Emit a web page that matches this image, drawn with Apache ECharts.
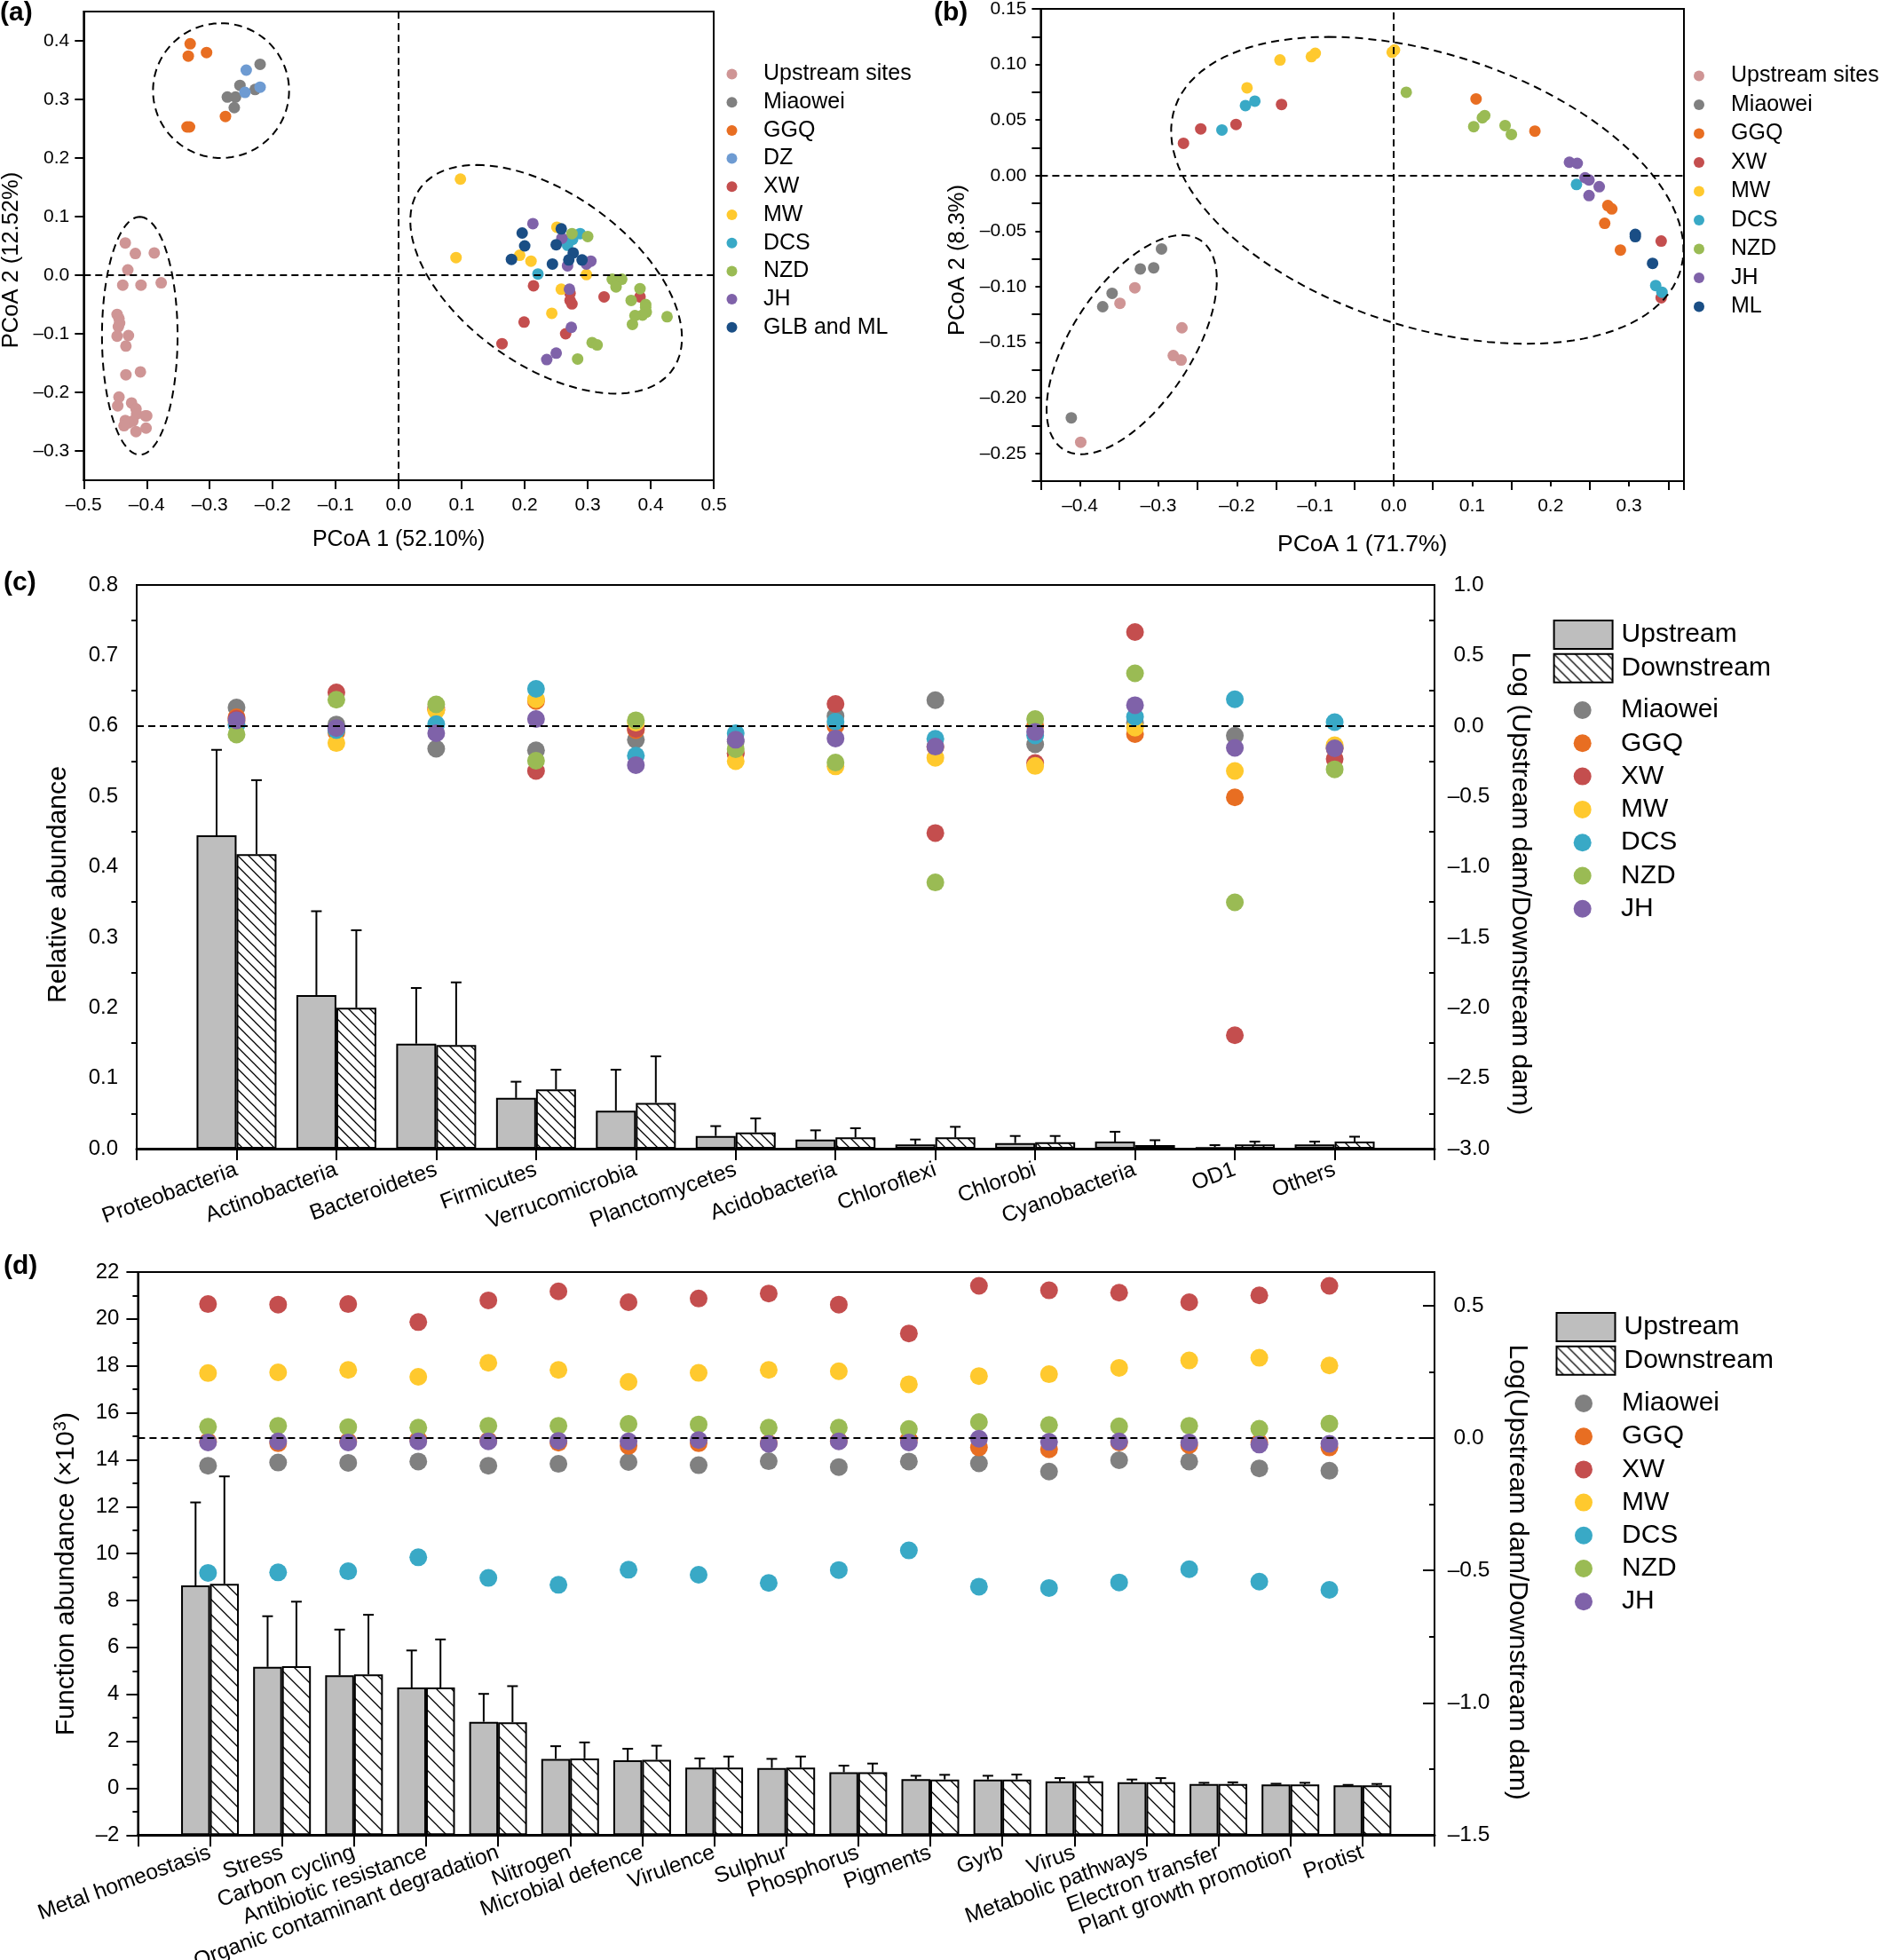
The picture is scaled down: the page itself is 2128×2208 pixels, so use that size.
<!DOCTYPE html>
<html><head><meta charset="utf-8">
<style>html,body{margin:0;padding:0;background:#fff}#c{width:2128px;height:2208px}</style>
<script src="https://cdn.jsdelivr.net/npm/echarts@6/dist/echarts.min.js"></script>
</head><body><div id="c"></div>
<script>
// ---- colours
const COLORS={'Upstream sites':'#CF9595','Miaowei':'#808080','GGQ':'#E86E22','DZ':'#6E9BD2','XW':'#C44E4E','MW':'#FFC92E','DCS':'#39A9C6','NZD':'#9ABB54','JH':'#7F62A9','GLB and ML':'#1A4E85','ML':'#1A4E85'};
// ---- panel (a) PCoA points [x,y]
const aUpstream=[[-.434,.055],[-.418,.037],[-.388,.038],[-.430,.009],[-.438,-.017],[-.409,-.017],[-.377,-.013],[-.447,-.067],[-.444,-.074],[-.443,-.082],[-.445,-.088],[-.447,-.104],[-.429,-.103],[-.433,-.121],[-.410,-.165],[-.433,-.170],[-.444,-.208],[-.446,-.223],[-.424,-.218],[-.417,-.228],[-.416,-.237],[-.402,-.240],[-.400,-.240],[-.422,-.249],[-.434,-.248],[-.429,-.252],[-.436,-.257],[-.401,-.261],[-.417,-.267]];
const aMiaowei=[[-.220,.360],[-.252,.324],[-.228,.317],[-.272,.304],[-.259,.304],[-.261,.286]];
const aGGQ=[[-.331,.395],[-.305,.380],[-.334,.374],[-.275,.271],[-.336,.253],[-.332,.253]];
const aDZ=[[-.242,.350],[-.220,.321],[-.244,.312]];
const aXW=[[.214,-.018],[.272,-.031],[.272,-.043],[.275,-.049],[.326,-.037],[.383,-.037],[.199,-.080],[.265,-.100],[.164,-.117]];
const aMW=[[.098,.164],[.091,.030],[.251,.082],[.192,.034],[.210,.024],[.298,.001],[.258,-.024],[.243,-.065]];
const aDCS=[[.221,.002],[.288,.071],[.276,.061],[.268,.051]];
const aNZD=[[.275,.071],[.300,.066],[.339,-.007],[.354,-.007],[.345,-.020],[.383,-.023],[.369,-.043],[.392,-.050],[.392,-.055],[.393,-.063],[.387,-.068],[.375,-.069],[.426,-.071],[.371,-.084],[.307,-.115],[.315,-.119],[.284,-.143]];
const aJH=[[.213,.088],[.259,.063],[.305,.024],[.298,.019],[.268,.016],[.271,-.024],[.274,-.089],[.250,-.133],[.235,-.144]];
const aGLB=[[.196,.072],[.258,.079],[.200,.050],[.250,.052],[.277,.038],[.179,.027],[.244,.019],[.270,.026],[.291,.026]];
// ellipses: [cx, cy, topDx, topDy, halfWidthAtCentre]
const aEllipses=[[-.282,.315,0,.115,.108],[-.411,-.1035,0,.203,.060],[.234,-.007,-.1104,.1951,.1852]];
// ---- panel (b)
const bUpstream=[[-.330,-.101],[-.349,-.115],[-.270,-.137],[-.281,-.162],[-.271,-.166],[-.399,-.240]];
const bMiaowei=[[-.296,-.066],[-.323,-.084],[-.306,-.083],[-.359,-.106],[-.371,-.118],[-.411,-.218]];
const bGGQ=[[.105,.069],[.180,.040],[.273,-.027],[.278,-.030],[.269,-.043],[.289,-.067]];
const bXW=[[-.268,.029],[-.246,.042],[-.201,.046],[-.143,.064],[.341,-.059],[.341,-.110]];
const bMW=[[-.187,.079],[-.145,.104],[-.105,.107],[-.100,.110],[-.002,.111],[.001,.113]];
const bDCS=[[-.219,.041],[-.189,.063],[-.177,.067],[.233,-.008],[.334,-.099],[.342,-.105]];
const bNZD=[[.016,.075],[.102,.044],[.113,.052],[.116,.054],[.142,.045],[.150,.037]];
const bJH=[[.224,.012],[.234,.011],[.244,-.002],[.249,-.004],[.262,-.010],[.249,-.018]];
const bML=[[.308,-.053],[.308,-.055],[.330,-.079]];
const bEllipses=[[.0428,-.0133,-.126,.1381,.3013],[-.334,-.1522,.0642,.0986,.0875]];
// ---- panel (c)
const cCategories=['Proteobacteria','Actinobacteria','Bacteroidetes','Firmicutes','Verrucomicrobia','Planctomycetes','Acidobacteria','Chloroflexi','Chlorobi','Cyanobacteria','OD1','Others'];
const cUp=[.4446,.218,.149,.072,.054,.018,.013,.006,.008,.010,.002,.006];
const cDown=[.418,.200,.147,.084,.065,.023,.016,.016,.009,.005,.006,.010];
const cUpErr=[.566,.337,.228,.095,.112,.032,.026,.013,.018,.024,.005,.010];
const cDownErr=[.523,.310,.236,.112,.131,.043,.029,.031,.018,.012,.010,.017];
const cMiaowei=[.131,.01,-.162,-.174,-.098,-.11,.07,.183,-.131,.02,-.07,-.15];
const cGGQ=[.061,-.046,.116,.177,-.03,-.195,0,-.15,.003,-.058,-.507,-.16];
const cXW=[.05,.238,.13,-.32,-.02,-.195,.156,-.76,-.263,.666,-2.195,-.235];
const cMW=[.03,-.122,.11,.189,.024,-.25,-.287,-.226,-.284,-.012,-.32,-.137];
const cDCS=[.01,-.03,.012,.263,-.211,-.052,.03,-.092,-.067,.064,.189,.027];
const cNZD=[-.061,.186,.153,-.247,.04,-.165,-.26,-1.111,.049,.373,-1.252,-.308];
const cJH=[.04,-.015,-.052,.049,-.278,-.098,-.089,-.147,-.043,.147,-.156,-.159];
// ---- panel (d)
const dCategories=['Metal homeostasis','Stress','Carbon cycling','Antibiotic resistance','Organic contaminant degradation','Nitrogen','Microbial defence','Virulence','Sulphur','Phosphorus','Pigments','Gyrb','Virus','Metabolic pathways','Electron transfer','Plant growth promotion','Protist'];
const dUp=[8.64,5.17,4.81,4.29,2.83,1.25,1.19,.88,.86,.68,.39,.37,.29,.25,.175,.16,.12];
const dDown=[8.71,5.20,4.85,4.29,2.81,1.27,1.21,.88,.88,.68,.37,.37,.29,.25,.175,.16,.12];
const dUpErr=[12.18,7.33,6.76,5.87,4.02,1.79,1.68,1.27,1.25,.96,.53,.53,.43,.37,.23,.19,.14];
const dDownErr=[13.29,7.95,7.39,6.34,4.35,1.95,1.81,1.35,1.35,1.05,.57,.58,.49,.43,.25,.23,.18];
const dMiaowei=[-.104,-.092,-.093,-.088,-.104,-.097,-.090,-.102,-.087,-.109,-.088,-.095,-.126,-.083,-.088,-.114,-.123];
const dGGQ=[-.012,-.019,-.012,-.005,-.009,-.017,-.029,-.019,-.019,-.010,-.005,-.035,-.042,-.016,-.026,-.016,-.035];
const dXW=[.507,.505,.507,.439,.521,.555,.514,.528,.547,.505,.396,.576,.559,.550,.514,.540,.576];
const dMW=[.246,.249,.258,.232,.285,.258,.213,.247,.258,.253,.204,.235,.242,.266,.294,.304,.275];
const dDCS=[-.509,-.507,-.503,-.450,-.528,-.554,-.497,-.516,-.547,-.498,-.424,-.561,-.566,-.545,-.495,-.542,-.573];
const dNZD=[.043,.047,.042,.040,.047,.047,.054,.052,.040,.040,.035,.061,.050,.045,.047,.036,.055];
const dJH=[-.016,-.012,-.016,-.012,-.012,-.010,-.012,-.007,-.021,-.012,-.016,-.002,-.014,-.012,-.016,-.024,-.021];

const FONT='"Liberation Sans",Arial,sans-serif';
const GRAY='#BEBEBE';
function hatch(s){const c=document.createElement('canvas');c.width=s;c.height=s;const g=c.getContext('2d');g.fillStyle='#fff';g.fillRect(0,0,s,s);g.strokeStyle='#000';g.lineWidth=1.3;g.beginPath();g.moveTo(-2,-2);g.lineTo(s+2,s+2);g.moveTo(-2,s-2);g.lineTo(2,s+2);g.moveTo(s-2,-2);g.lineTo(s+2,2);g.stroke();return c;}
const HATCH_C={image:hatch(12),repeat:'repeat'}, HATCH_D={image:hatch(17),repeat:'repeat'};
const fmt=d=>v=>Number(v).toFixed(d).replace('-','–');
const ZERO={silent:true,symbol:'none',label:{show:false},lineStyle:{color:'#000',width:2,type:[8,5]},animation:false};

function ellipseSeries(rows,ix,iy){return {type:'custom',xAxisIndex:ix,yAxisIndex:iy,silent:true,z:5,clip:false,data:rows,encode:{x:0,y:1},
 renderItem(p,api){const cx=api.value(0),cy=api.value(1),ax=api.value(2),ay=api.value(3),bx=api.value(4);const pts=[];
  for(let i=0;i<120;i++){const t=i/120*2*Math.PI;pts.push(api.coord([cx+Math.cos(t)*ax+Math.sin(t)*bx,cy+Math.cos(t)*ay]));}
  return {type:'polygon',shape:{points:pts},style:{fill:'none',stroke:'#000',lineWidth:2,lineDash:[9,6]}};}};}
function pointSeries(name,data,ix,iy,size,mark){const s={type:'scatter',name,data,xAxisIndex:ix,yAxisIndex:iy,symbol:'circle',symbolSize:size,z:3,itemStyle:{color:COLORS[name],opacity:1}};if(mark)s.markLine=Object.assign({data:mark},ZERO);return s;}
function barSeries(name,vals,ix,iy,width,fill){return {type:'bar',name,data:['-',...vals,'-'],xAxisIndex:ix,yAxisIndex:iy,barWidth:width,barGap:'0%',z:2,itemStyle:{color:fill,borderColor:'#000',borderWidth:2}};}
function errorSeries(tops,vals,ix,iy,side){return {type:'custom',xAxisIndex:ix,yAxisIndex:iy,silent:true,z:1,data:tops.map((t,i)=>[i+1,vals[i],t]),encode:{x:0,y:[1,2]},
 renderItem(p,api){const off=side*0.2*api.size([1,0])[0];const a=api.coord([api.value(0),api.value(1)]),b=api.coord([api.value(0),api.value(2)]);const x=a[0]+off;const st={stroke:'#000',lineWidth:2,fill:'none'};
  return {type:'group',children:[{type:'line',shape:{x1:x,y1:a[1],x2:x,y2:b[1]},style:st},{type:'line',shape:{x1:x-6,y1:b[1],x2:x+6,y2:b[1]},style:st}]};}};}
const indexed=a=>a.map((v,i)=>[i+1,v]);
function valueX(idx,min,max,name,gap,labels,d,extra){return Object.assign({type:'value',gridIndex:idx,min,max,name,nameLocation:'middle',nameGap:gap,nameTextStyle:{fontFamily:FONT,fontSize:25,color:'#000'},axisLine:{onZero:false,lineStyle:{color:'#000',width:2}},axisTick:{length:10,lineStyle:{color:'#000',width:2}},axisLabel:{customValues:labels,fontFamily:FONT,fontSize:21,color:'#000',margin:18,formatter:fmt(d)},splitLine:{show:false}},extra||{});}
function valueY(idx,min,max,name,gap,pad,labels,d,extra){return Object.assign({type:'value',gridIndex:idx,min,max,name,nameLocation:'middle',nameGap:gap,nameTextStyle:{fontFamily:FONT,fontSize:25.5,color:'#000',padding:pad},axisLine:{onZero:false,lineStyle:{color:'#000',width:2}},axisTick:{length:10,lineStyle:{color:'#000',width:2}},axisLabel:{customValues:labels,fontFamily:FONT,fontSize:21,color:'#000',margin:16,formatter:fmt(d)},splitLine:{show:false}},extra||{});}
function catX(idx,cats,margin){return {type:'category',gridIndex:idx,data:['',...cats,''],boundaryGap:false,axisLine:{onZero:false,lineStyle:{color:'#000',width:3}},axisTick:{length:13,alignWithLabel:true,interval:0,lineStyle:{color:'#000',width:2}},axisLabel:{interval:0,rotate:20,margin,hideOverlap:false,fontFamily:FONT,fontSize:24.6,color:'#000'},splitLine:{show:false}};}
function barLeftY(idx,min,max,interval,d,name,gap,pad,extra){return Object.assign({type:'value',gridIndex:idx,min,max,interval,name,nameLocation:'middle',nameRotate:90,nameGap:gap,nameTextStyle:{fontFamily:FONT,fontSize:30.2,color:'#000',padding:pad,rich:{sup:{fontFamily:FONT,fontSize:20,verticalAlign:'top',padding:[0,0,12,0]},t:{fontFamily:FONT,fontSize:30.2}}},axisLine:{onZero:false,lineStyle:{color:'#000',width:2}},axisTick:{length:13,lineStyle:{color:'#000',width:2}},minorTick:{show:true,splitNumber:2,length:6,lineStyle:{color:'#000',width:2}},axisLabel:{fontFamily:FONT,fontSize:24,color:'#000',margin:21,formatter:fmt(d)},splitLine:{show:false}},extra||{});}
function barRightY(idx,min,max,name,gap,pad,extra){return Object.assign({type:'value',gridIndex:idx,position:'right',min,max,interval:.5,name,nameLocation:'middle',nameRotate:-90,nameGap:gap,nameTextStyle:{fontFamily:FONT,fontSize:30.2,color:'#000',padding:pad},axisLine:{onZero:false,lineStyle:{color:'#000',width:2}},axisTick:{inside:true,length:13,lineStyle:{color:'#000',width:2}},minorTick:{show:true,splitNumber:2,length:6,lineStyle:{color:'#000',width:2}},axisLabel:{align:'center',fontFamily:FONT,fontSize:24.5,color:'#000',margin:38.5,formatter:fmt(1),showMaxLabel:max===1},splitLine:{show:false}},extra||{});}
function dotLegend(names,left,top,w,size,font,gap){return {orient:'vertical',left,top,padding:0,itemWidth:w,itemHeight:size,itemGap:gap,icon:'circle',selectedMode:false,data:names,textStyle:{fontFamily:FONT,fontSize:font,color:'#000',lineHeight:font,height:font}};}
function barLegend(left,top,gap){return {orient:'vertical',left,top,padding:0,itemWidth:66,itemHeight:32,itemGap:gap,selectedMode:false,data:[{name:'Upstream',icon:'rect'},{name:'Downstream',icon:'rect'}],textStyle:{fontFamily:FONT,fontSize:30,color:'#000',padding:[0,0,0,5]}};}

const aTicksX=[-.5,-.4,-.3,-.2,-.1,0,.1,.2,.3,.4,.5], aTicksY=[-.3,-.2,-.1,0,.1,.2,.3,.4];
const bLabelsX=[-.4,-.3,-.2,-.1,0,.1,.2,.3], bLabelsY=[-.25,-.2,-.15,-.1,-.05,0,.05,.1,.15];
const MINOR={show:true,splitNumber:2,length:6,lineStyle:{color:'#000',width:2}};

const option={animation:false,backgroundColor:'#fff',
 title:[['(a)',0,0],['(b)',1052,0],['(c)',4,642],['(d)',4,1412]].map(t=>({text:t[0],left:t[1],top:t[2],padding:0,textStyle:{fontFamily:FONT,fontSize:30,fontWeight:'bold',color:'#000'}})),
 grid:[{left:94.3,top:13,width:709.7,height:528},{left:1172.4,top:10,width:724.6,height:532},{left:154,top:659,width:1462,height:635},{left:155.4,top:1433,width:1460.6,height:634.3}].map(g=>Object.assign(g,{show:true,borderColor:'#000',borderWidth:2,backgroundColor:'transparent',containLabel:false,outerBoundsMode:'none'})),
 xAxis:[
  valueX(0,-.5,.5,'PCoA 1 (52.10%)',55,aTicksX,1,{interval:.1,axisTick:{length:10,customValues:aTicksX,lineStyle:{color:'#000',width:2}}}),
  valueX(1,-.45,.37,'PCoA 1 (71.7%)',58,bLabelsX,1,{interval:.1,minorTick:MINOR,nameTextStyle:{fontFamily:FONT,fontSize:26.5,color:'#000'}}),
  catX(2,cCategories,23),catX(3,dCategories,19),
  // the function-ratio dots of (d) sit on their own, slightly narrower spacing
  {type:'value',gridIndex:3,min:0,max:18.5,show:false,position:'top'}],
 yAxis:[
  valueY(0,-.35,.45,'PCoA 2 (12.52%)',68,[0,32,0,0],aTicksY,1,{axisTick:{length:10,customValues:aTicksY,lineStyle:{color:'#000',width:2}}}),
  valueY(1,-.275,.15,'PCoA 2 (8.3%)',80,[0,34,0,0],bLabelsY,2,{interval:.05,minorTick:MINOR}),
  barLeftY(2,0,.8,.1,1,'Relative abundance',73.5,[0,40,0,0]),
  barRightY(2,-3,1,'Log (Upstream dam/Downstream dam)',81,[0,0,0,38]),
  barLeftY(3,-2,22,2,0,'Function abundance (×10{sup|3})',65,[0,46,0,0],{startValue:-2}),
  barRightY(3,-1.5,.628,'Log(Upstream dam/Downstream dam)',78,[0,0,0,42])],
 legend:[
  dotLegend(['Upstream sites','Miaowei','GGQ','DZ','XW','MW','DCS','NZD','JH','GLB and ML'],818.5,71,61,12,25,6.7),
  dotLegend(['Upstream sites','Miaowei','GGQ','XW','MW','DCS','NZD','JH','ML'],1908,73,62,12,25,7.5),
  barLegend(1749.6,698,3.8),
  dotLegend(['Miaowei','GGQ','XW','MW','DCS','NZD','JH'],1772.7,785,76.6,20,30,7.3),
  barLegend(1752.5,1478,3.8),
  dotLegend(['Miaowei','GGQ','XW','MW','DCS','NZD','JH'],1774,1566,76,20,30,7.2)],
 series:[
  pointSeries('Upstream sites',aUpstream,0,0,13,[{xAxis:0},{yAxis:0}]),
  pointSeries('Miaowei',aMiaowei,0,0,13),pointSeries('GGQ',aGGQ,0,0,13),pointSeries('DZ',aDZ,0,0,13),pointSeries('XW',aXW,0,0,13),pointSeries('MW',aMW,0,0,13),pointSeries('DCS',aDCS,0,0,13),pointSeries('NZD',aNZD,0,0,13),pointSeries('JH',aJH,0,0,13),pointSeries('GLB and ML',aGLB,0,0,13),
  ellipseSeries(aEllipses,0,0),
  pointSeries('Upstream sites',bUpstream,1,1,13,[{xAxis:0},{yAxis:0}]),
  pointSeries('Miaowei',bMiaowei,1,1,13),pointSeries('GGQ',bGGQ,1,1,13),pointSeries('XW',bXW,1,1,13),pointSeries('MW',bMW,1,1,13),pointSeries('DCS',bDCS,1,1,13),pointSeries('NZD',bNZD,1,1,13),pointSeries('JH',bJH,1,1,13),pointSeries('ML',bML,1,1,13),
  ellipseSeries(bEllipses,1,1),
  barSeries('Upstream',cUp,2,2,45,GRAY),barSeries('Downstream',cDown,2,2,45,HATCH_C),
  errorSeries(cUpErr,cUp,2,2,-1),errorSeries(cDownErr,cDown,2,2,1),
  pointSeries('Miaowei',indexed(cMiaowei),2,3,20,[{yAxis:0}]),
  pointSeries('GGQ',indexed(cGGQ),2,3,20),pointSeries('XW',indexed(cXW),2,3,20),pointSeries('MW',indexed(cMW),2,3,20),pointSeries('DCS',indexed(cDCS),2,3,20),pointSeries('NZD',indexed(cNZD),2,3,20),pointSeries('JH',indexed(cJH),2,3,20),
  barSeries('Upstream',dUp,3,4,32.5,GRAY),barSeries('Downstream',dDown,3,4,32.5,HATCH_D),
  errorSeries(dUpErr,dUp,3,4,-1),errorSeries(dDownErr,dDown,3,4,1),
  pointSeries('Miaowei',indexed(dMiaowei),4,5,20,[{yAxis:0}]),
  pointSeries('GGQ',indexed(dGGQ),4,5,20),pointSeries('XW',indexed(dXW),4,5,20),pointSeries('MW',indexed(dMW),4,5,20),pointSeries('DCS',indexed(dDCS),4,5,20),pointSeries('NZD',indexed(dNZD),4,5,20),pointSeries('JH',indexed(dJH),4,5,20)
 ]};
echarts.init(document.getElementById('c'),null,{renderer:'canvas'}).setOption(option);
</script></body></html>
